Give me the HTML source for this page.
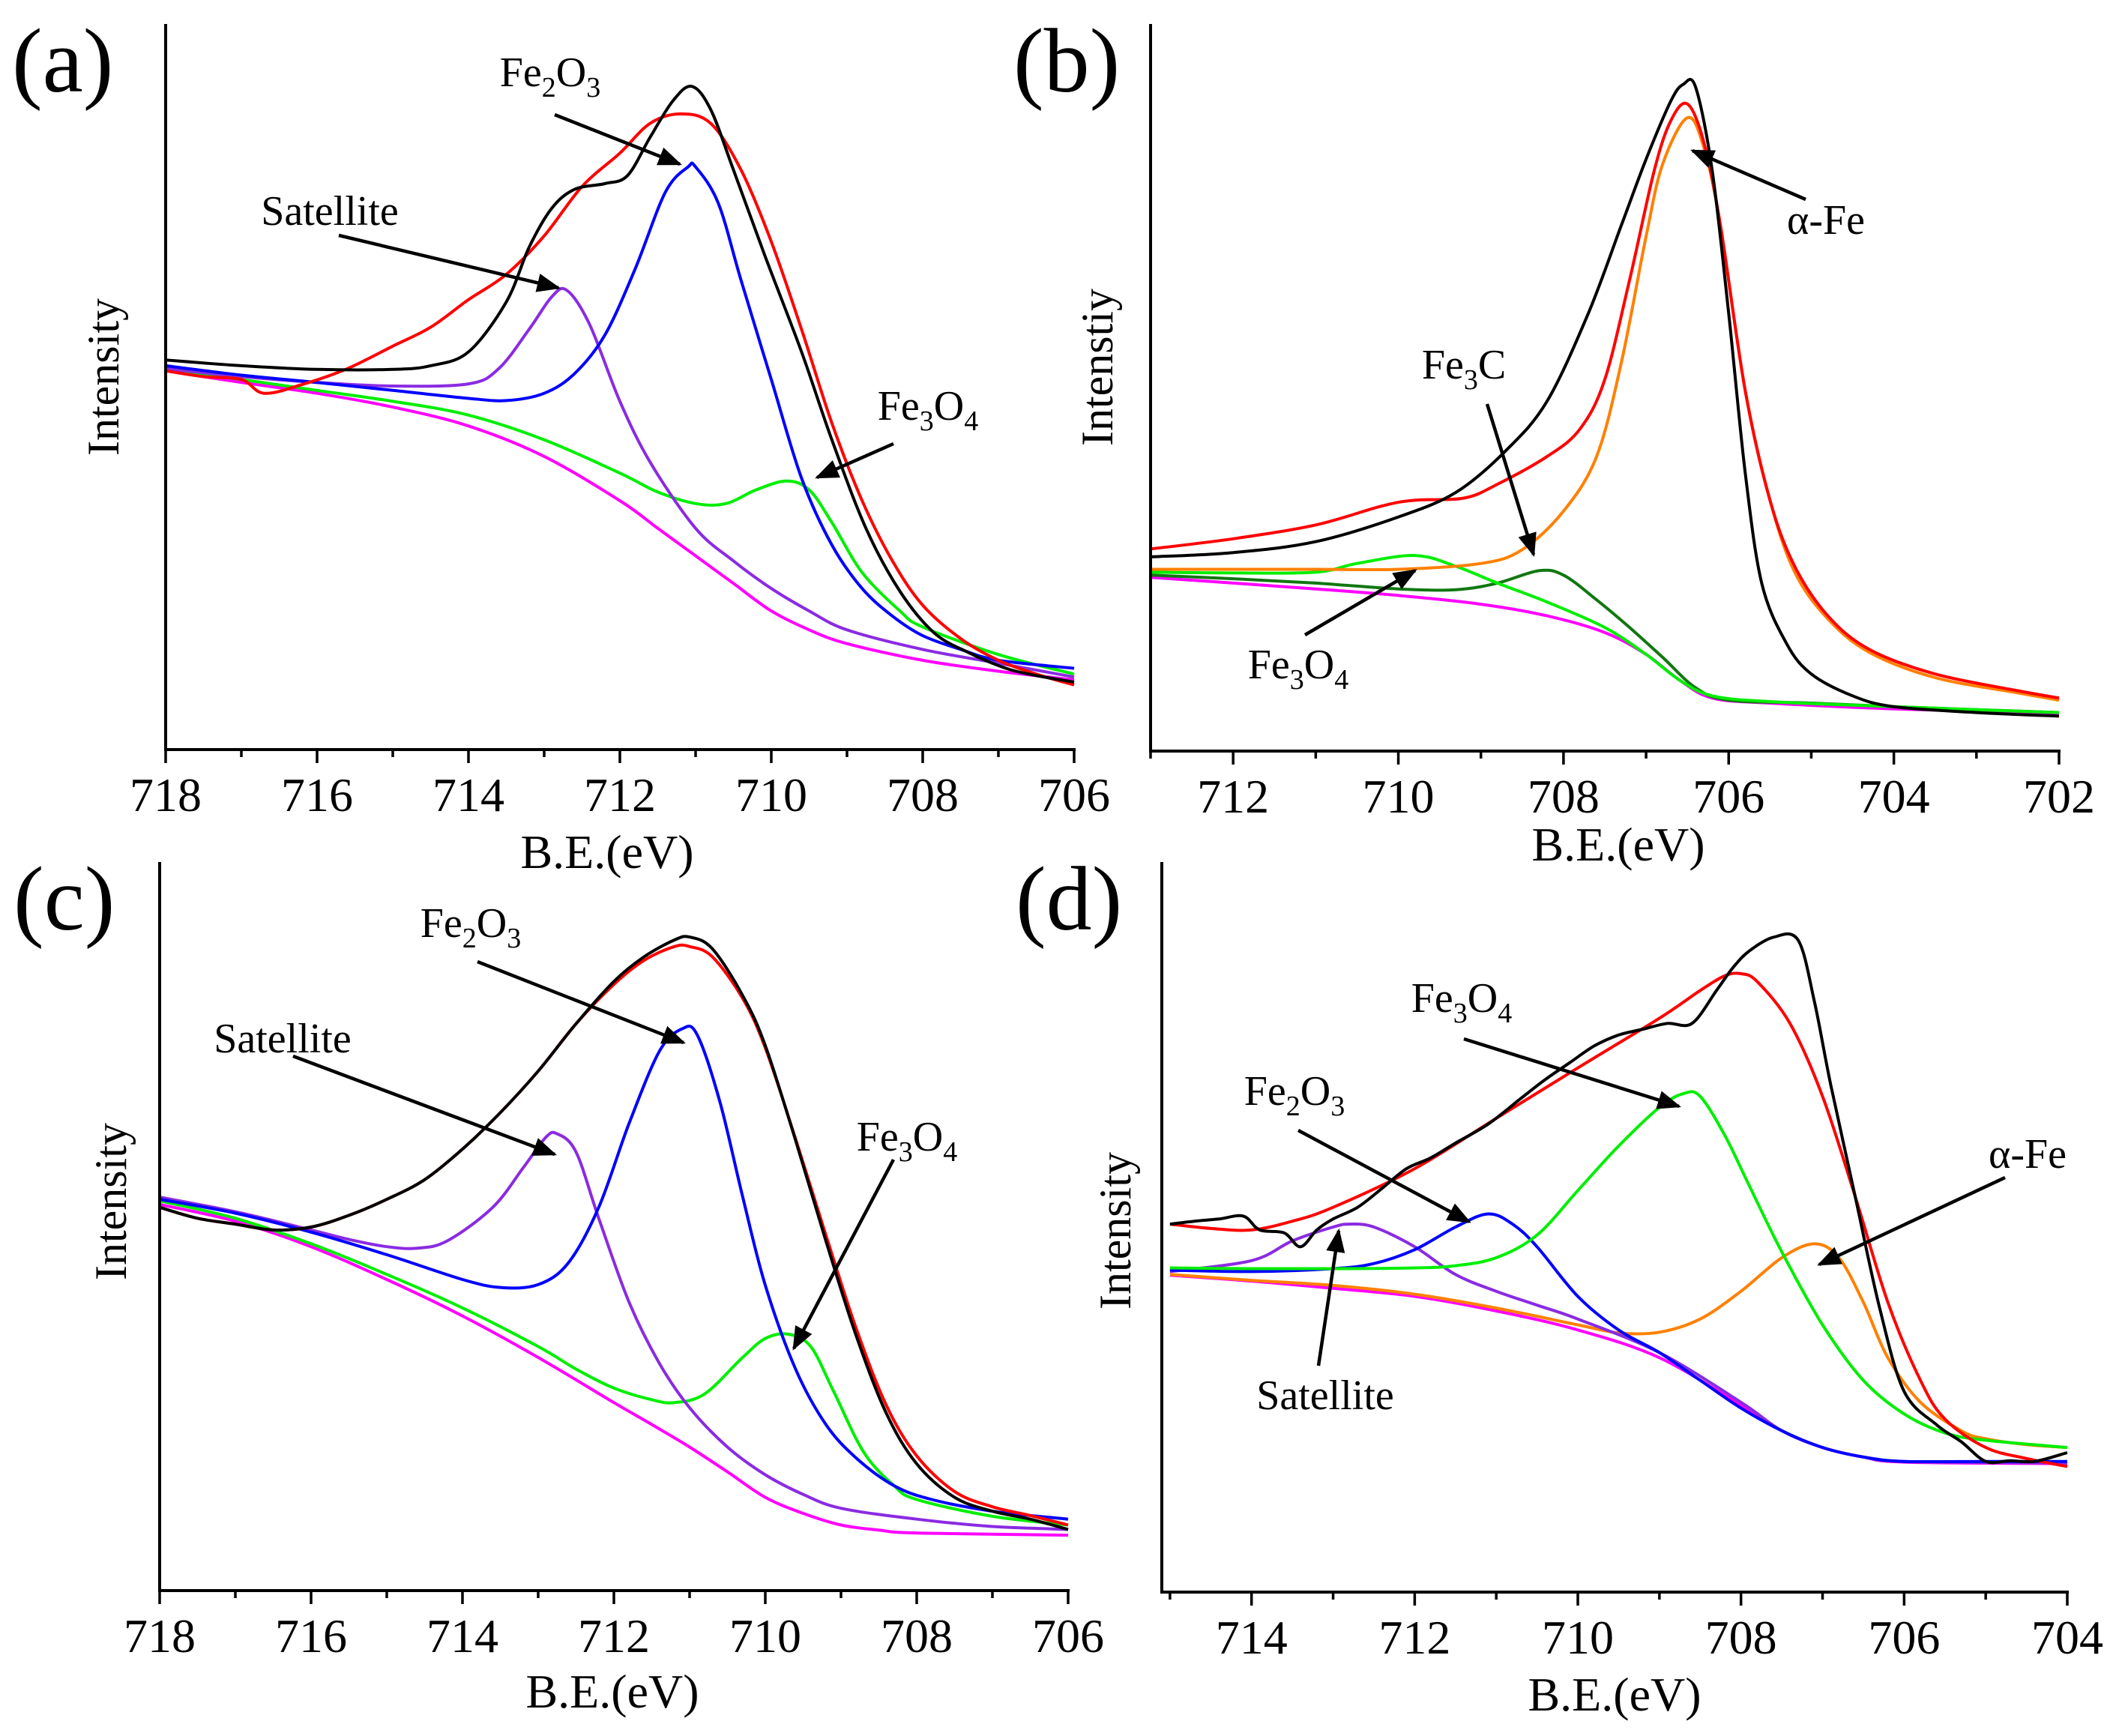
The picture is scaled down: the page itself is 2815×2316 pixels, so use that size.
<!DOCTYPE html>
<html><head><meta charset="utf-8">
<style>
html,body{margin:0;padding:0;background:#fff;}
svg{display:block;}
text{font-family:"Liberation Serif","Times New Roman",serif;fill:#000;}
</style></head>
<body>
<svg id="fig" width="2815" height="2316" viewBox="0 0 2815 2316" xmlns="http://www.w3.org/2000/svg">
<defs>
<marker id="ah" viewBox="0 0 10 10" refX="9" refY="5" markerWidth="7" markerHeight="7" markerUnits="strokeWidth" orient="auto">
<path d="M0,1 L10,5 L0,9 z" fill="#000"/></marker>
</defs>
</svg>
<script>
// ---------- Panel (a) data ----------
const aBE_black=[718,717,716,715,714.5,714,713.5,713.2,712.9,712.6,712.2,711.9,711.6,711.3,711.05,710.8,710.5,710.1,709.6,709.2,708.75,708.3,707.85,707.4,706.9,706.5,706];
const aI_black=[53.7,52.9,52.4,52.4,52.9,54.8,61.7,69.2,74.6,77.2,78.0,79.1,84.4,89.4,91.4,88.2,79.9,68.5,54.8,42.7,30.5,21.8,16.1,13.4,11.2,10.2,9.3];
const aBE_red=[718,717.5,717,716.7,716.2,715.6,715,714.5,714,713.5,713,712.5,712,711.6,711.2,710.8,710.4,710,709.6,709.2,708.8,708.4,708,707.5,707,706.5,706];
const aI_red=[52.2,51.4,51.0,49.1,50.3,52.5,55.6,58.2,62.0,65.5,70.8,77.6,82.2,86.3,87.6,86.3,79.9,70.0,57.9,45.0,34.3,26.0,19.9,15.3,12.3,10.4,8.9];
const aBE_blue=[718,717,716,715,714,713.5,713,712.6,712.2,711.8,711.4,711.1,711,710.7,710.4,710,709.6,709.2,708.8,708.4,708,707.5,707,706];
const aI_blue=[52.9,51.6,50.6,49.5,48.4,48.1,49.1,51.8,57.1,66.2,76.8,80.3,80.3,75.3,64.7,51.0,37.4,28.2,22.2,18.4,15.7,13.8,12.3,11.2];
const aBE_purple=[718,717,716,715,714,713.6,713.2,712.9,712.7,712.4,712,711.6,711,710.5,710,709.5,709,708,707,706];
const aI_purple=[52.5,51.4,50.6,50.1,50.4,52.5,57.9,62.4,63.3,58.6,48.0,39.6,30.5,26.0,22.2,19.1,16.5,13.8,11.9,10.0];
const aBE_green=[718,717,716,715,714,713,712,711.5,711,710.6,710.2,709.8,709.5,709.2,708.8,708.3,708,707,706];
const aI_green=[52.4,51.0,49.5,48.0,46.1,42.7,38.1,35.5,33.9,33.9,35.8,37.0,35.8,31.3,24.4,19.1,16.9,13.1,10.4];
const aBE_mag=[718,717,716,715,714,713,712,711.5,711,710.5,710,709.5,709,708,707,706];
const aI_mag=[52.2,50.6,49.1,47.2,44.6,40.4,34.3,30.5,26.7,22.9,19.1,16.5,14.6,12.3,10.8,9.6];

// ---------- Panel (b) data ----------
const bBE_black=[713,712,711,710,709.3,708.7,708.2,707.7,707.3,707,706.7,706.55,706.4,706.2,706,705.8,705.6,705.3,705,704.5,704,703,702];
const bI_black=[26.7,27.3,28.8,32.2,35.6,41.3,48.1,60.2,72.3,81.4,89.4,91.7,91.3,79.9,60.2,38.3,23.1,14.8,10.6,7.6,6.1,5.3,4.8];
const bBE_red=[713,712,711,710.2,709.8,709.2,708.8,708.2,707.8,707.5,707.2,706.9,706.7,706.5,706.3,706.1,705.8,705.5,705.2,704.8,704.3,703.5,702.5,702];
const bI_red=[27.8,29.2,31.1,33.7,34.5,34.8,36.7,40.5,44.3,51.1,64.8,79.9,86.7,89.0,83.7,72.3,49.6,34.5,25.4,18.6,14.0,10.6,8.3,7.3];
const bBE_orange=[713,712,711,710,709,708.5,708,707.6,707.3,707,706.8,706.5,706.3,706.1,705.8,705.5,705.2,704.8,704.3,703.5,702.5,702];
const bI_orange=[25.0,25.0,25.0,25.0,25.8,27.7,33.0,40.5,53.4,70.8,80.7,87.1,83.0,72.3,49.6,34.5,24.6,18.2,13.6,10.1,8.0,7.0];
const bBE_green=[713,712,711,710.5,709.8,709.3,708.8,708.2,707.5,707,706.6,706.2,705.5,704,702];
const bI_green=[24.6,24.5,24.6,25.8,26.9,25.4,23.1,20.5,17.0,13.3,9.8,7.6,6.8,6.1,5.3];
const bBE_dkgreen=[713,712,711,710,709.3,708.8,708.3,708,707.6,707.2,706.8,706.4,706,705,704,702];
const bI_dkgreen=[24.2,23.7,23.1,22.3,22.2,23.1,24.8,24.2,20.8,17.0,12.9,8.7,7.0,6.6,6.1,5.3];
const bBE_mag=[713,712,711,710,709,708.2,707.5,707,706.6,706.2,705.5,704,702];
const bI_mag=[23.9,23.1,22.3,21.4,20.2,18.6,16.3,13.3,9.8,7.3,6.6,5.8,5.2];

// ---------- Panel (c) data ----------
const cBE_black=[718,717.5,717,716.5,716,715.5,715,714.5,714,713.5,713,712.5,712,711.6,711.2,711,710.7,710.3,710,709.6,709.2,708.8,708.4,708,707.5,707,706.5,706];
const cI_black=[52.6,51.1,50.3,49.5,49.9,51.5,53.7,56.4,60.6,65.6,71.3,77.8,83.6,87.0,89.3,89.7,88.1,81.7,74.8,61.8,48.0,35.0,24.3,17.4,12.8,10.9,9.8,8.4];
const cBE_red=[718,717.5,717,716.5,716,715.5,715,714.5,714,713.5,713,712.5,712,711.6,711.2,711,710.7,710.3,710,709.6,709.2,708.8,708.4,708,707.5,707,706.5,706];
const cI_red=[52.6,51.1,50.3,49.5,49.9,51.5,53.7,56.4,60.6,65.6,71.3,77.8,83.2,86.5,88.4,88.4,87.0,81.3,74.5,62.0,48.8,36.0,25.4,18.5,13.6,11.5,10.3,9.0];
const cBE_blue=[718,717,716,715,714,713.5,713,712.6,712.2,711.8,711.4,711.1,710.9,710.6,710.3,710,709.6,709.2,708.8,708.3,707.8,707,706];
const cI_blue=[53.7,51.8,49.2,46.1,42.7,41.6,42.0,45.0,52.6,64.1,74.0,77.1,76.3,67.1,54.1,41.9,30.4,22.8,18.2,14.4,12.5,10.9,9.8];
const cBE_purple=[718,717,716,715.5,715,714.6,714.2,713.6,713.2,712.9,712.75,712.5,712.2,711.8,711.4,711,710.5,710,709.5,709,708,707,706];
const cI_purple=[54.0,52.0,49.5,48.2,47.2,47.0,48.0,52.6,58.0,62.2,62.7,60.2,51.1,39.6,31.2,25.1,19.7,15.9,13.2,11.3,9.8,8.8,8.4];
const cBE_green=[718,717,716,715,714,713,712.5,712,711.5,711.2,710.8,710.3,710,709.7,709.4,709.1,708.7,708.3,708,707,706];
const cI_green=[53.5,51.1,47.6,43.4,38.8,33.5,30.4,27.8,26.2,25.8,27.0,32.0,34.6,35.2,33.5,27.4,19.0,14.4,12.5,10.2,9.0];
const cBE_mag=[718,717,716,715,714,713,712,711.5,711,710.5,710,709.5,709,708.5,708,706];
const cI_mag=[53.0,50.7,47.2,42.7,37.7,32.0,25.8,22.8,19.7,16.3,12.8,10.6,9.0,8.3,7.9,7.6];

// ---------- Panel (d) data ----------
const dBE_black=[715,714.7,714.4,714.1,713.9,713.6,713.4,713.2,713,712.7,712.4,712.1,711.8,711.5,711.1,710.7,710.4,710.1,709.8,709.5,709.2,708.9,708.6,708.3,708.1,707.9,707.6,707.3,707.1,706.9,706.6,706.3,706,705.6,705.3,705,704.7,704.4,704];
const dI_black=[50.4,50.8,51.1,51.5,49.6,49.2,47.3,49.6,51.1,52.7,55.3,58.0,59.5,61.5,64.1,67.6,70.2,72.5,74.8,76.3,77.1,77.9,77.9,82.4,85.5,87.8,89.7,89.3,80.9,69.5,54.2,38.9,27.5,22.9,20.6,17.9,18.0,17.9,19.1];
const dBE_red=[715,714.5,714,713.5,713,712,711,710,709,708.5,708.2,708,707.8,707.4,707,706.6,706.2,705.8,705.5,705,704.5,704];
const dI_red=[50.4,49.8,49.6,50.8,52.7,58.0,64.9,71.8,78.6,82.4,84.4,84.7,83.6,77.9,67.9,54.2,39.7,29.0,23.7,19.8,18.3,17.2];
const dBE_green=[715,714,713,712,711.5,711,710.5,710,709.5,709,708.7,708.5,708.2,707.9,707.5,707,706.5,706,705.5,705,704];
const dI_green=[44.4,44.3,44.3,44.4,44.7,45.8,48.9,55.0,61.1,66.4,68.3,67.9,62.6,55.7,46.6,36.6,29.0,24.4,21.8,20.8,19.8];
const dBE_blue=[715,714,713,712.5,712,711.5,711.1,710.8,710.5,710,709.5,709,708.5,708,707.5,707,706.5,706,705,704];
const dI_blue=[44.1,43.9,44.3,45.0,46.9,50.0,51.8,50.4,47.3,40.5,35.9,32.8,29.0,25.2,22.1,19.8,18.5,17.9,17.9,17.9];
const dBE_purple=[715,714,713.5,713,712.8,712.5,712,711.5,711,710.5,710,709,708,707.5,707,706.5,706,704];
const dI_purple=[43.9,45.4,48.1,50.0,50.4,50.0,47.3,43.5,41.2,39.3,37.4,32.8,26.0,22.1,19.8,18.5,17.9,17.7];
const dBE_orange=[715,714,713,712,711,710,709.5,709,708.5,708,707.5,707.1,706.8,706.5,706.2,705.8,705.3,705,704.5,704];
const dI_orange=[43.5,42.7,42.0,40.8,38.9,36.6,35.5,35.6,37.4,41.2,45.8,47.7,45.8,39.7,32.1,26.0,22.1,21.0,20.2,19.8];
const dBE_mag=[715,714,713,712,711,710,709,708,707.5,707,706.5,706,704];
const dI_mag=[43.4,42.6,41.6,40.5,38.5,35.9,32.1,25.6,22.1,19.8,18.5,17.8,17.6];

// tick labels
const aTicks=[718,716,714,712,710,708,706];
const bTicks=[712,710,708,706,704,702];
const cTicks=[718,716,714,712,710,708,706];
const dTicks=[714,712,710,708,706,704];

const NS="http://www.w3.org/2000/svg";
const svg=document.getElementById('fig');
function mk(tag,attrs,parent){const e=document.createElementNS(NS,tag);for(const k in attrs)e.setAttribute(k,attrs[k]);(parent||svg).appendChild(e);return e;}

function catmull(pts){
  let d='M'+pts[0][0].toFixed(1)+','+pts[0][1].toFixed(1);
  for(let i=0;i<pts.length-1;i++){
    const p0=pts[i-1]||pts[i],p1=pts[i],p2=pts[i+1],p3=pts[i+2]||p2;
    const c1=[p1[0]+(p2[0]-p0[0])/6,p1[1]+(p2[1]-p0[1])/6];
    const c2=[p2[0]-(p3[0]-p1[0])/6,p2[1]-(p3[1]-p1[1])/6];
    d+=' C'+c1[0].toFixed(1)+','+c1[1].toFixed(1)+' '+c2[0].toFixed(1)+','+c2[1].toFixed(1)+' '+p2[0].toFixed(1)+','+p2[1].toFixed(1);
  }
  return d;
}

function panel(cfg){
  const g=mk('g',{});
  
  
  const xs=v=>cfg.x0+(cfg.be0-v)/(cfg.be0-cfg.be1)*(cfg.x1-cfg.x0);
  const ys=v=>cfg.yB-v/100*(cfg.yB-cfg.yT);
  // series
  cfg.series.forEach(s=>{
    const pts=s.be.map((b,i)=>[xs(b),ys(s.val[i])]);
    const p=mk('path',{d:catmull(pts),fill:'none',stroke:s.color,'stroke-width':4,'stroke-linejoin':'round'},g);
    
    
  });
  // axes
  const ya=mk('line',{x1:cfg.x0,y1:cfg.yT,x2:cfg.x0,y2:cfg.yB+2,stroke:'#000','stroke-width':4},g);
  
  
  const xa=mk('line',{x1:cfg.x0-2,y1:cfg.yB,x2:cfg.x1+2,y2:cfg.yB,stroke:'#000','stroke-width':4},g);
  
  
  for(let v=Math.floor(cfg.be0);v>=cfg.be1;v--){
    const major=(v%2===0);
    const t=mk('line',{x1:xs(v),y1:cfg.yB,x2:xs(v),y2:cfg.yB+(major?18:10),stroke:'#000','stroke-width':3.5},g);
    
    
  }
  cfg.ticks.forEach(v=>{
    const t=mk('text',{x:xs(v),y:cfg.yB+82,'text-anchor':'middle','font-size':64},g);
    t.textContent=String(v);
    
    
  });
  const xl=mk('text',{x:cfg.xlab[0],y:cfg.xlab[1],'text-anchor':'middle','font-size':64},g);
  xl.textContent='B.E.(eV)';
  
  
  const yl=mk('text',{x:0,y:0,'text-anchor':'middle','font-size':60,transform:'translate('+cfg.ylab[0]+','+cfg.ylab[1]+') rotate(-90)'},g);
  yl.textContent=cfg.ytitle;
  
  
  const pl=mk('text',{x:cfg.plab[0],y:cfg.plab[1],'font-size':122},g);
  pl.textContent='('+cfg.id+')';
  
  
  cfg.notes.forEach(n=>{
    const t=mk('text',{x:n.x,y:n.y,'text-anchor':'middle','font-size':56},g);
    
    
    n.parts.forEach(pt=>{
      const ts=mk('tspan',{},t);
      if(pt[1]){ts.setAttribute('font-size','38');ts.setAttribute('dy','14');}
      else if(pt[2]){ts.setAttribute('dy','-14');}
      ts.textContent=pt[0];
    });
    const a=mk('line',{x1:n.a[0],y1:n.a[1],x2:n.a[2],y2:n.a[3],stroke:'#000','stroke-width':4.5,'marker-end':'url(#ah)'},g);
    
    
  });
}
const FE2O3=[['Fe'],['2',1],['O',0,1],['3',1]];
const FE3O4=[['Fe'],['3',1],['O',0,1],['4',1]];
const FE3C=[['Fe'],['3',1],['C',0,1]];

panel({id:'a',x0:221,x1:1433,be0:718,be1:706,yB:1000,yT:32,ticks:aTicks,
  xlab:[810,1158],ylab:[158,503],ytitle:'Intensity',plab:[16,122],
  series:[
    {name:'magenta',color:'#ff00ff',be:aBE_mag,val:aI_mag},
    {name:'green',color:'#00ee00',be:aBE_green,val:aI_green},
    {name:'purple',color:'#8a2be2',be:aBE_purple,val:aI_purple},
    {name:'blue',color:'#0000ff',be:aBE_blue,val:aI_blue},
    {name:'red',color:'#ff0000',be:aBE_red,val:aI_red},
    {name:'black',color:'#000000',be:aBE_black,val:aI_black}],
  notes:[
    {name:'fe2o3',x:734,y:115,parts:FE2O3,a:[740,153,907,219]},
    {name:'satellite',x:440,y:300,parts:[['Satellite']],a:[452,314,745,384]},
    {name:'fe3o4',x:1238,y:560,parts:FE3O4,a:[1192,592,1090,637]}]
});
panel({id:'b',x0:1535,x1:2747,be0:713,be1:702,yB:1002,yT:32,ticks:bTicks,
  xlab:[2159,1148],ylab:[1484,490],ytitle:'Intenstiy',plab:[1352,122],
  series:[
    {name:'magenta',color:'#ff00ff',be:bBE_mag,val:bI_mag},
    {name:'dark-green',color:'#117711',be:bBE_dkgreen,val:bI_dkgreen},
    {name:'green',color:'#00ee00',be:bBE_green,val:bI_green},
    {name:'orange',color:'#ff8000',be:bBE_orange,val:bI_orange},
    {name:'red',color:'#ff0000',be:bBE_red,val:bI_red},
    {name:'black',color:'#000000',be:bBE_black,val:bI_black}],
  notes:[
    {name:'alpha-fe',x:2436,y:312,parts:[['α-Fe']],a:[2409,266,2258,201]},
    {name:'fe3c',x:1953,y:505,parts:FE3C,a:[1984,539,2046,740]},
    {name:'fe3o4',x:1732,y:905,parts:FE3O4,a:[1741,847,1888,761]}]
});
panel({id:'c',x0:213,x1:1425,be0:718,be1:706,yB:2122,yT:1150,ticks:cTicks,
  xlab:[817,2278],ylab:[168,1603],ytitle:'Intensity',plab:[18,1240],
  series:[
    {name:'magenta',color:'#ff00ff',be:cBE_mag,val:cI_mag},
    {name:'green',color:'#00ee00',be:cBE_green,val:cI_green},
    {name:'purple',color:'#8a2be2',be:cBE_purple,val:cI_purple},
    {name:'blue',color:'#0000ff',be:cBE_blue,val:cI_blue},
    {name:'red',color:'#ff0000',be:cBE_red,val:cI_red},
    {name:'black',color:'#000000',be:cBE_black,val:cI_black}],
  notes:[
    {name:'fe2o3',x:628,y:1250,parts:FE2O3,a:[637,1283,912,1391]},
    {name:'satellite',x:377,y:1404,parts:[['Satellite']],a:[391,1409,740,1540]},
    {name:'fe3o4',x:1210,y:1535,parts:FE3O4,a:[1192,1547,1059,1799]}]
});
panel({id:'d',x0:1550,x1:2758,be0:715.1,be1:704,yB:2124,yT:1150,ticks:dTicks,
  xlab:[2154,2282],ylab:[1508,1642],ytitle:'Intensity',plab:[1355,1240],
  series:[
    {name:'magenta',color:'#ff00ff',be:dBE_mag,val:dI_mag},
    {name:'orange',color:'#ff8000',be:dBE_orange,val:dI_orange},
    {name:'purple',color:'#8a2be2',be:dBE_purple,val:dI_purple},
    {name:'blue',color:'#0000ff',be:dBE_blue,val:dI_blue},
    {name:'green',color:'#00ee00',be:dBE_green,val:dI_green},
    {name:'red',color:'#ff0000',be:dBE_red,val:dI_red},
    {name:'black',color:'#000000',be:dBE_black,val:dI_black}],
  notes:[
    {name:'fe3o4',x:1950,y:1350,parts:FE3O4,a:[1953,1386,2240,1476]},
    {name:'fe2o3',x:1727,y:1474,parts:FE2O3,a:[1732,1508,1960,1630]},
    {name:'satellite',x:1768,y:1880,parts:[['Satellite']],a:[1759,1822,1786,1642]},
    {name:'alpha-fe',x:2705,y:1558,parts:[['α-Fe']],a:[2675,1571,2427,1687]}]
});
</script>
</body></html>
